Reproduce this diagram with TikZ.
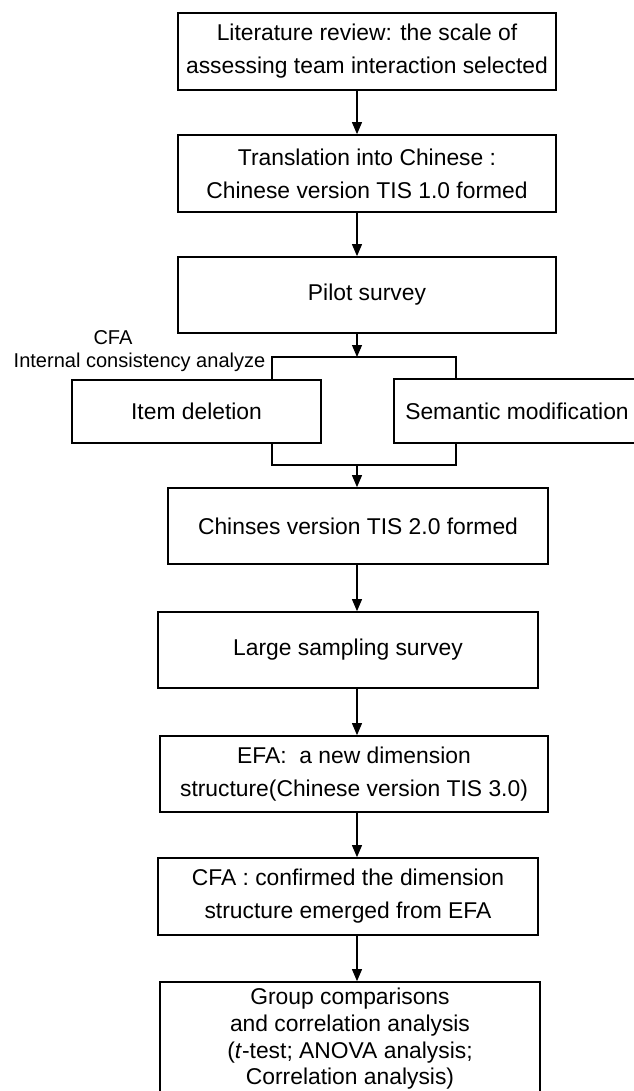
\documentclass[tikz,border=0pt]{standalone}
\usepackage{fontspec}
\setmainfont{Liberation Sans}
\usetikzlibrary{arrows.meta}

\begin{document}
\begin{tikzpicture}
            [x=0.02cm, y=-0.02cm, ->, >={Triangle[length=0.24cm,width=0.2cm]}, line width=0.6pt,
             box/.style={shape=rectangle, draw=black, line width=1pt, align=center, inner sep=0pt,
                         font=\fontsize{13}{18.8}\selectfont},
             note/.style={draw=none, inner sep=0pt, font=\fontsize{11.4}{13.7}\selectfont}]
            \useasboundingbox (0, 0) rectangle (634, 1091);

            \node[box, minimum width=7.56cm, minimum height=1.54cm] (lit) at (367, 51.5) {Literature review: the scale of\\assessing team interaction selected};
            \node[box, minimum width=7.56cm, minimum height=1.54cm] (trans) at (367, 173.5) {Translation into Chinese :\\Chinese version TIS 1.0 formed};
            \node[box, minimum width=7.56cm, minimum height=1.52cm] (pilot) at (367, 295) {Pilot survey};
            \node[box, minimum width=4.98cm, minimum height=1.26cm] (item) at (196.5, 411.5) {Item deletion};
            \node[box, minimum width=4.92cm, minimum height=1.28cm] (sem) at (517, 411) {Semantic modification};
            \node[box, minimum width=7.6cm, minimum height=1.52cm] (tis2) at (358, 526) {Chinses version TIS 2.0 formed};
            \node[box, minimum width=7.6cm, minimum height=1.52cm] (large) at (348, 650) {Large sampling survey};
            \node[box, minimum width=7.76cm, minimum height=1.52cm] (efa) at (354, 774) {EFA:\ \ a new dimension\\structure(Chinese version TIS 3.0)};
            \node[box, minimum width=7.6cm, minimum height=1.54cm] (cfa) at (348, 896.5) {CFA : confirmed the dimension\\structure emerged from EFA};
            \node[box, minimum width=7.6cm, minimum height=2.28cm, font=\fontsize{13}{15.2}\selectfont] (group) at (350, 1039) {Group comparisons\\and correlation analysis\\(\textit{t}-test; ANOVA analysis;\\Correlation analysis)};

            \node[note] (cfalbl) at (113, 338) {CFA};
            \node[note] (icalbl) at (139.5, 362) {Internal consistency analyze};

            \coordinate (axis) at (357, 0);
            \coordinate (splitL) at (272, 357);
            \coordinate (splitR) at (456, 357);
            \coordinate (joinL) at (272, 465);
            \coordinate (joinR) at (456, 465);

            \path [->] (lit.south -| axis) edge (trans.north -| axis);
            \path [->] (trans.south -| axis) edge (pilot.north -| axis);
            \path [->] (pilot.south -| axis) edge (splitL -| axis);
            \draw [-] (item.north -| splitL) -- (splitL) -- (splitR) -- (sem.north -| splitR);
            \draw [-] (item.south -| joinL) -- (joinL) -- (joinR) -- (sem.south -| joinR);
            \path [->] (joinL -| axis) edge (tis2.north -| axis);
            \path [->] (tis2.south -| axis) edge (large.north -| axis);
            \path [->] (large.south -| axis) edge (efa.north -| axis);
            \path [->] (efa.south -| axis) edge (cfa.north -| axis);
            \path [->] (cfa.south -| axis) edge (group.north -| axis);
        \end{tikzpicture}
\end{document}
